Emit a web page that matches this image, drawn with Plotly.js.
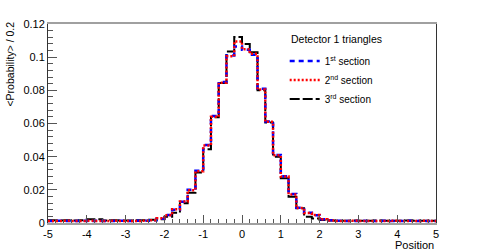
<!DOCTYPE html>
<html>
<head>
<meta charset="utf-8">
<script src="https://cdn.plot.ly/plotly-3.0.1.min.js"></script>
<style>
  html, body { margin: 0; padding: 0; background: #fff; }
  #grafica { width: 484px; height: 250px; }
</style>
</head>
<body>
<div id="grafica"></div>
<script>
// binning: 50 bins of 0.2 from -5 to 5
const xMin = -5;
const binWidth = 0.2;

// 1st section (blue dashed)
const seccion1 = [
  0.0012, 0.0013, 0.0012, 0.0012, 0.0013, 0.0012, 0.0013, 0.0012, 0.0012, 0.0013,
  0.0012, 0.0013, 0.0013, 0.0016, 0.0026, 0.0048, 0.0080, 0.0128, 0.0200, 0.0315,
  0.0470, 0.0645, 0.0850, 0.1010, 0.1065, 0.1045, 0.1015, 0.0810, 0.0612, 0.0410,
  0.0282, 0.0175, 0.0092, 0.0062, 0.0047, 0.0022, 0.0016, 0.0013, 0.0012, 0.0012,
  0.0013, 0.0012, 0.0012, 0.0013, 0.0012, 0.0012, 0.0013, 0.0012, 0.0012, 0.0012
];

// 2nd section (red dotted)
const seccion2 = [
  0.0012, 0.0012, 0.0013, 0.0012, 0.0012, 0.0013, 0.0012, 0.0012, 0.0013, 0.0012,
  0.0012, 0.0012, 0.0014, 0.0017, 0.0028, 0.0046, 0.0083, 0.0130, 0.0198, 0.0312,
  0.0468, 0.0640, 0.0846, 0.1005, 0.1095, 0.1048, 0.1020, 0.0805, 0.0610, 0.0408,
  0.0280, 0.0172, 0.0090, 0.0060, 0.0048, 0.0022, 0.0015, 0.0012, 0.0012, 0.0013,
  0.0012, 0.0012, 0.0012, 0.0012, 0.0013, 0.0012, 0.0012, 0.0012, 0.0013, 0.0012
];

// 3rd section (black long dash)
const seccion3 = [
  0.0016, 0.0015, 0.0016, 0.0015, 0.0016, 0.0022, 0.0022, 0.0015, 0.0016, 0.0015,
  0.0015, 0.0016, 0.0017, 0.0020, 0.0022, 0.0038, 0.0062, 0.0119, 0.0183, 0.0304,
  0.0445, 0.0638, 0.0844, 0.1034, 0.1121, 0.1080, 0.1030, 0.0800, 0.0606, 0.0400,
  0.0270, 0.0158, 0.0089, 0.0038, 0.0027, 0.0018, 0.0015, 0.0014, 0.0014, 0.0015,
  0.0014, 0.0014, 0.0015, 0.0014, 0.0014, 0.0014, 0.0015, 0.0014, 0.0014, 0.0014
];

const xTicks = [-5, -4, -3, -2, -1, 0, 1, 2, 3, 4, 5];
const xTickText = ['-5', '-4', '-3', '-2', '-1', '0', '1', '2', '3', '4', '5'];

// bin edges and step values for the outline
const bordes = [];
for (let i = 0; i <= seccion1.length; i++) bordes.push(+(xMin + i * binWidth).toFixed(2));
function escalon(vals) { return vals.concat([vals[vals.length - 1]]); }

const fuente = 'Liberation Sans, Arial, sans-serif';

const data = [
  {
    x: bordes, y: escalon(seccion3), mode: 'lines',
    line: { shape: 'hv', color: '#000000', width: 2, dash: '10px,3px' },
    name: '3<sup>rd</sup> section', legendrank: 3, hoverinfo: 'skip'
  },
  {
    x: bordes, y: escalon(seccion1), mode: 'lines',
    line: { shape: 'hv', color: '#0000ff', width: 2.5, dash: '5px,4px' },
    name: '1<sup>st</sup> section', legendrank: 1, hoverinfo: 'skip'
  },
  {
    x: bordes, y: escalon(seccion2), mode: 'lines',
    line: { shape: 'hv', color: '#ff0000', width: 2.5, dash: '2px,2px' },
    name: '2<sup>nd</sup> section', legendrank: 2, hoverinfo: 'skip'
  }
];

const layout = {
  width: 484, height: 250,
  margin: { l: 48, r: 48, t: 24, b: 27 },
  paper_bgcolor: '#fff', plot_bgcolor: '#fff',
  font: { family: fuente, size: 10, color: '#000' },
  showlegend: true,
  legend: {
    x: 0.61, y: 0.887, xanchor: 'left', yanchor: 'top',
    bgcolor: 'rgba(0,0,0,0)', borderwidth: 0,
    font: { family: fuente, size: 10 },
    tracegroupgap: 0
  },
  xaxis: {
    range: [-5, 5], showgrid: false, zeroline: false,
    showline: true, linecolor: '#a0a0a0', linewidth: 2, mirror: true,
    tickvals: xTicks, ticktext: xTickText,
    ticks: 'inside', ticklen: 8, tickcolor: '#555', tickwidth: 1,
    minor: { dtick: 0.2, ticks: 'inside', ticklen: 4, tickcolor: '#555', tickwidth: 1, showgrid: false },
    tickfont: { family: fuente, size: 11 }
  },
  yaxis: {
    range: [0, 0.12], showgrid: false, zeroline: false,
    showline: true, linecolor: '#333', linewidth: 1, mirror: true,
    dtick: 0.02, ticks: 'inside', ticklen: 9, tickcolor: '#555', tickwidth: 1,
    minor: { dtick: 0.004, ticks: 'inside', ticklen: 4.5, tickcolor: '#555', tickwidth: 1, showgrid: false },
    tickfont: { family: fuente, size: 11 }
  },
  annotations: [
    {
      text: 'Detector 1 triangles', xref: 'paper', yref: 'paper',
      x: 0.622, y: 0.925, xanchor: 'left', yanchor: 'middle',
      showarrow: false, font: { family: fuente, size: 10.5 }
    },
    {
      text: 'Position', xref: 'paper', yref: 'paper',
      x: 1, y: 0, xanchor: 'right', yanchor: 'top', yshift: -14,
      showarrow: false, font: { family: fuente, size: 11 }
    },
    {
      text: '&lt;Probability&gt; / 0.2', xref: 'paper', yref: 'paper',
      x: 0, y: 1.02, xanchor: 'center', yanchor: 'top', xshift: -38,
      textangle: -90, showarrow: false, font: { family: fuente, size: 10.5 }
    }
  ]
};

Plotly.newPlot('grafica', data, layout, { displayModeBar: false, staticPlot: true });
</script>
</body>
</html>
